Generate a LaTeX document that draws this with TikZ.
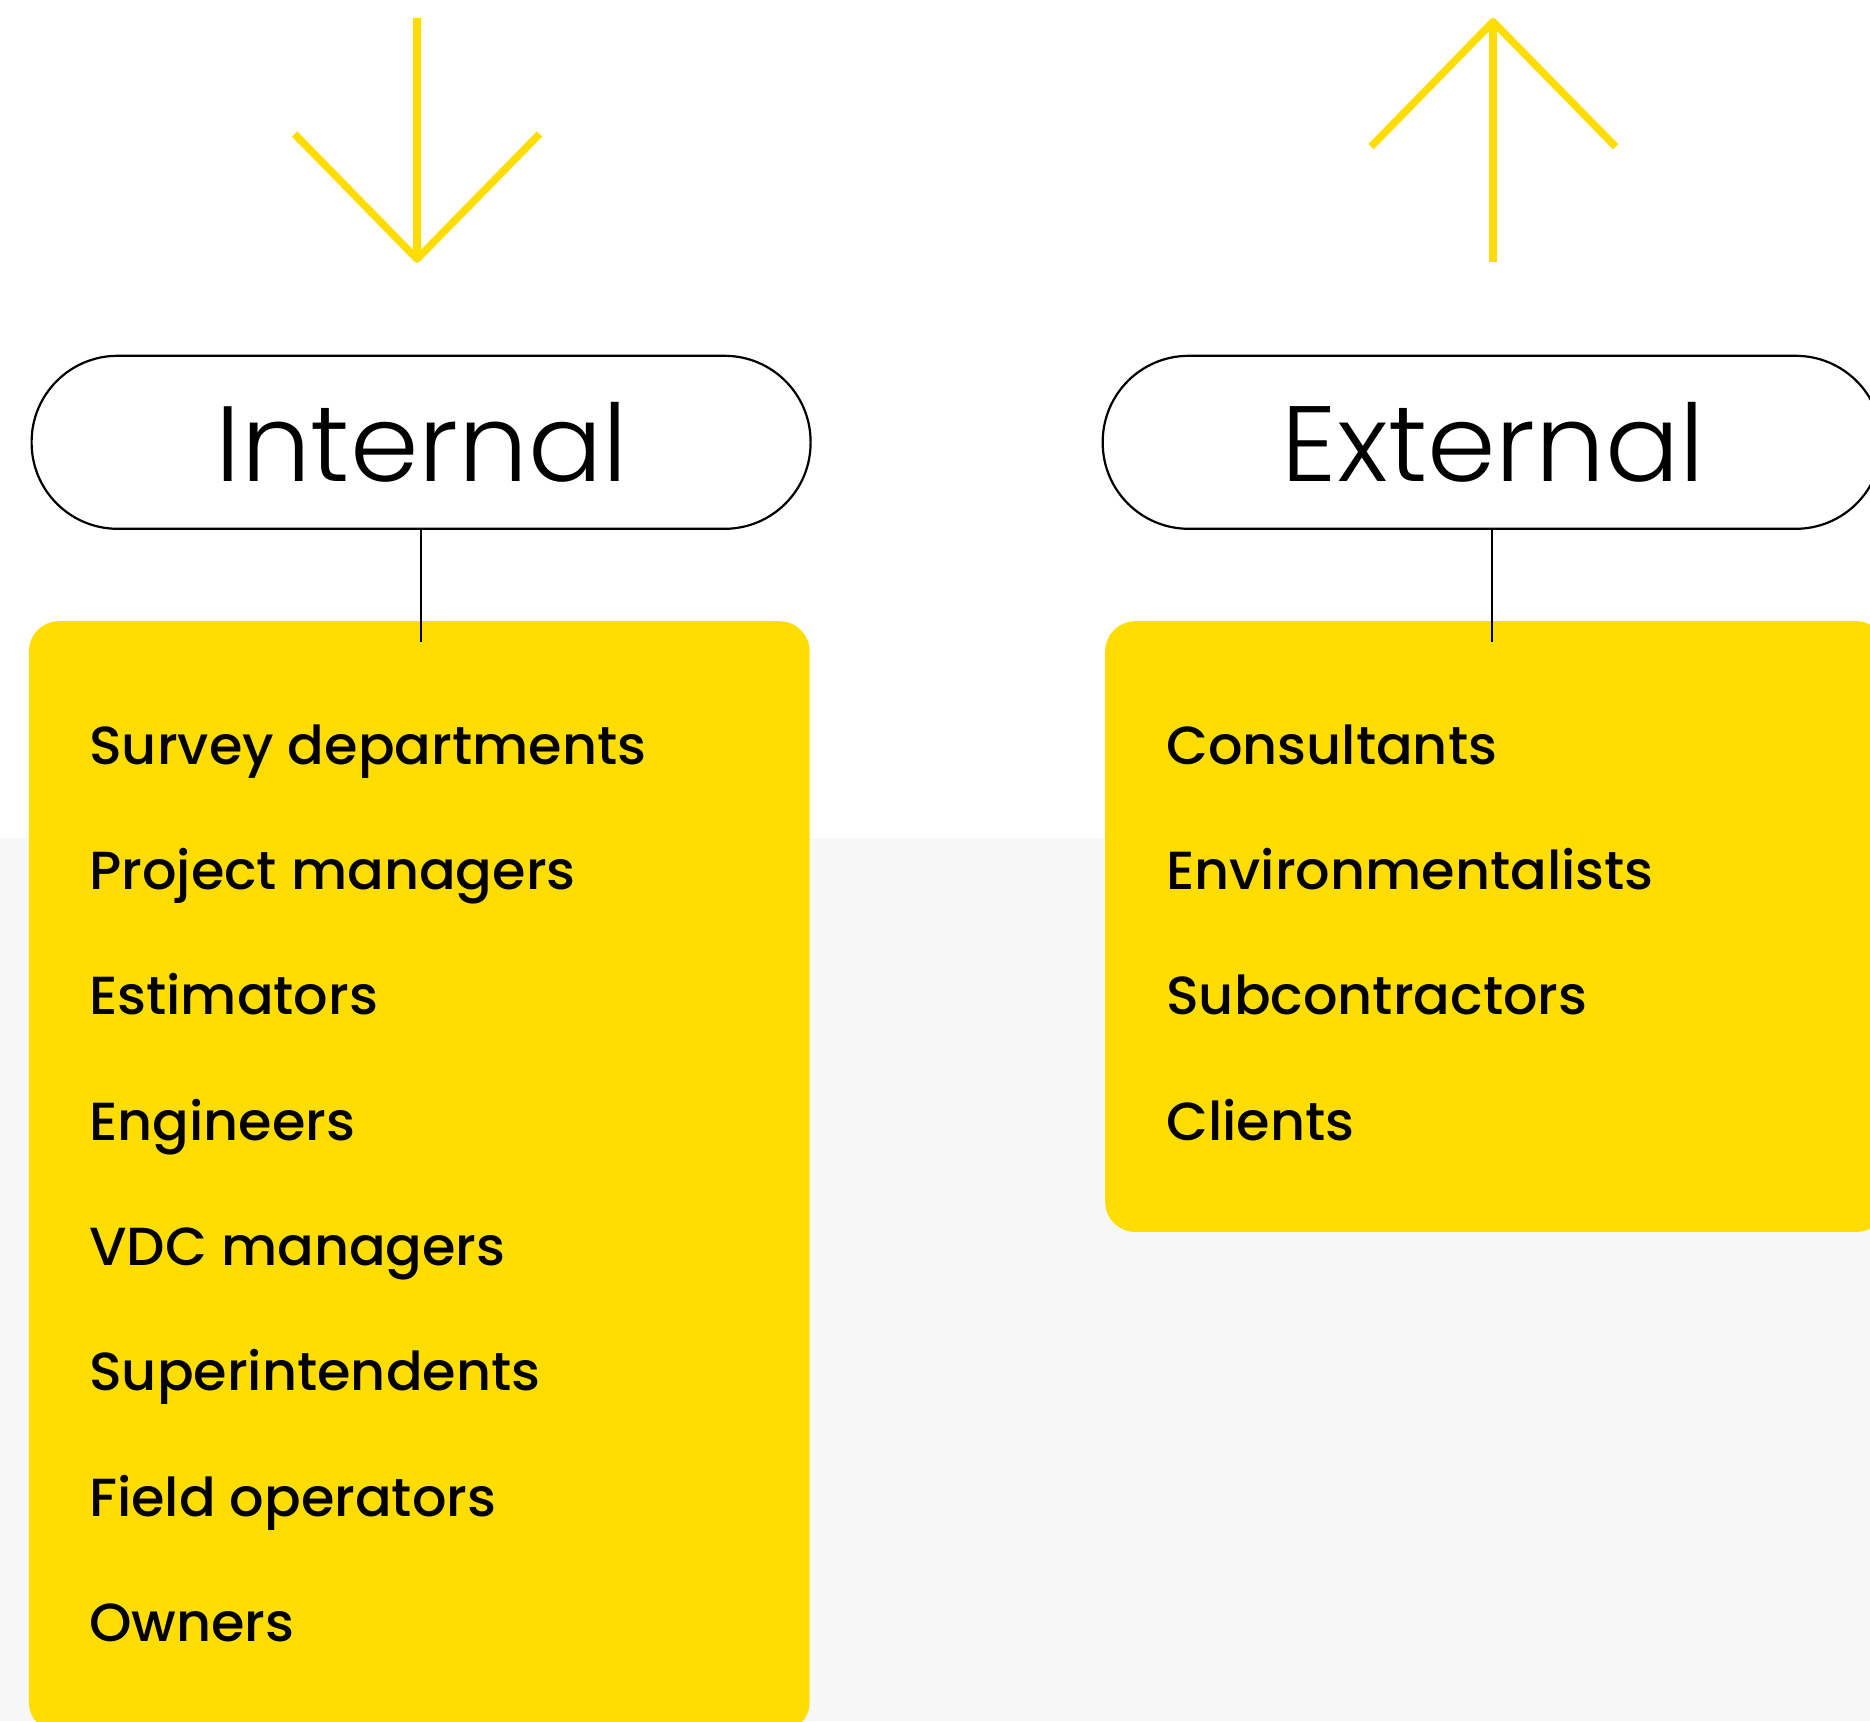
\documentclass[tikz,border=0pt]{standalone}
\usepackage{fontspec}
\setmainfont{Poppins Medium}[FakeStretch=1.01]
\newfontfamily\lightfont{Poppins Light}[FakeStretch=1.03]
\definecolor{yel}{HTML}{FFDD00}
\definecolor{bggray}{HTML}{F7F7F7}
\tikzset{
  pill/.style={draw=black, line width=2.2pt, fill=white, rounded corners=86pt, minimum width=779pt, minimum height=173pt, inner sep=0pt},
  ybox/.style={fill=yel, rounded corners=30pt, inner sep=0pt},
  head/.style={font=\lightfont\fontsize{107}{110}\selectfont, inner sep=0pt, anchor=base},
  item/.style={font=\fontsize{53.6}{60}\selectfont, inner sep=0pt, anchor=base west},
  arr/.style={draw=yel, line width=7.5pt, line join=round},
  conn/.style={draw=black, line width=2pt}
}
\begin{document}
\begin{tikzpicture}[x=1pt,y=-1pt]
\useasboundingbox (0,0) rectangle (1870,1721);
\clip (0,0) rectangle (1870,1721);
\fill[white] (0,0) rectangle (1870,1721);
\fill[bggray] (0,838.3) rectangle (1870,1721);
% arrows
\coordinate (dTop) at (417,18);
\coordinate (dTip) at (417,259);
\coordinate (dL) at (294.6,134);
\coordinate (dR) at (539.5,134);
\draw[arr] (dTop) -- (dTip);
\draw[arr] (dL) -- (dTip) -- (dR);
\coordinate (uBot) at (1493,262);
\coordinate (uTip) at (1493,21.7);
\coordinate (uL) at (1371,146.7);
\coordinate (uR) at (1615.6,146.7);
\draw[arr] (uBot) -- (uTip);
\draw[arr] (uL) -- (uTip) -- (uR);
% yellow boxes
\node[ybox, anchor=north west, minimum width=780.7pt, minimum height=1111pt] (boxL) at (28.7,621) {};
\node[ybox, anchor=north west, minimum width=781pt, minimum height=610.7pt] (boxR) at (1105,621) {};
% pills
\node[pill] (pillL) at (421.1,442.3) {};
\node[pill] (pillR) at (1492.2,442.3) {};
\node[head] (hL) at (422,481) {Internal};
\node[head] (hR) at (1493.5,481) {External};
% connectors
\coordinate (cL) at (pillL.south |- 0,642);
\coordinate (cR) at (pillR.south |- 0,642);
\draw[conn] (pillL.south) -- (cL);
\draw[conn] (pillR.south) -- (cR);
% items
\node[item] (i1) at (89,764.3) {Survey departments};
\node[item] (i2) at (89,889.6) {Project managers};
\node[item] (i3) at (89,1014.9) {Estimators};
\node[item] (i4) at (89,1140.2) {Engineers};
\node[item] (i5) at (89,1265.5) {VDC managers};
\node[item] (i6) at (89,1390.8) {Superintendents};
\node[item] (i7) at (89,1516.1) {Field operators};
\node[item] (i8) at (89,1641.4) {Owners};
\node[item] (e1) at (1166,764.3) {Consultants};
\node[item] (e2) at (1166,889.6) {Environmentalists};
\node[item] (e3) at (1166,1014.9) {Subcontractors};
\node[item] (e4) at (1166,1140.2) {Clients};
\end{tikzpicture}
\end{document}
